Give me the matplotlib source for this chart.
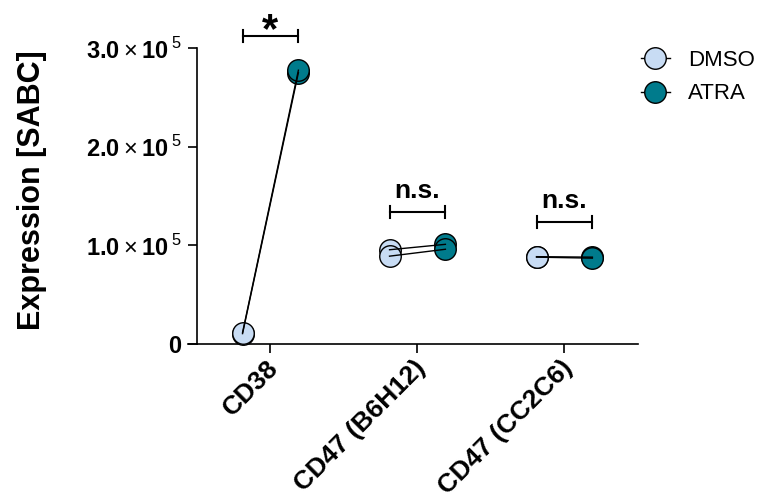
import matplotlib.pyplot as plt
from matplotlib.lines import Line2D
import matplotlib.transforms as mtransforms

plt.rcParams['font.family'] = ['Liberation Sans', 'DejaVu Sans']
plt.rcParams['mathtext.fontset'] = 'custom'
plt.rcParams['mathtext.rm'] = 'Liberation Sans'
plt.rcParams['mathtext.bf'] = 'Liberation Sans:bold'

# data (paired replicates, DMSO vs ATRA)
categories = ["CD38", "CD47 (B6H12)", "CD47 (CC2C6)"]
dmso = [[10500, 11500], [95500, 89000], [88500, 88000]]
atra = [[275000, 277500], [101000, 96000], [88000, 87000]]
sig_labels = ["*", "n.s.", "n.s."]
sig_heights = [312000, 134000, 124000]
yticks = [0, 100000, 200000, 300000]
ytick_labels = ["0",
                r"$\mathbf{1.0}\times\mathbf{10}^{\,5}$",
                r"$\mathbf{2.0}\times\mathbf{10}^{\,5}$",
                r"$\mathbf{3.0}\times\mathbf{10}^{\,5}$"]

dmso_color = "#c8dcf4"
atra_color = "#007b8c"
offset = 0.19

fig = plt.figure(figsize=(7.62, 5.04), dpi=100)
ax = fig.add_axes([0.2585, 0.3175, 0.5787, 0.5873])

for i, cat in enumerate(categories):
    for d, a in zip(dmso[i], atra[i]):
        ax.plot([i - offset, i + offset], [d, a], color="black", lw=1, zorder=4)
    ax.plot([i - offset] * len(dmso[i]), dmso[i], 'o', ms=15.5, mfc=dmso_color,
            mec="black", mew=1, zorder=3, clip_on=False)
    ax.plot([i + offset] * len(atra[i]), atra[i], 'o', ms=15.5, mfc=atra_color,
            mec="black", mew=1, zorder=3, clip_on=False)

    # significance bracket |---|
    h = sig_heights[i]
    cap = 6000
    ax.plot([i - offset, i + offset], [h, h], color="black", lw=1.5, clip_on=False)
    ax.plot([i - offset, i - offset], [h - cap, h + cap], color="black", lw=1.5, clip_on=False)
    ax.plot([i + offset, i + offset], [h - cap, h + cap], color="black", lw=1.5, clip_on=False)
    if sig_labels[i] == "*":
        ax.text(i, h + 5000, "*", ha="center", va="center", fontsize=30, fontweight="bold")
    else:
        ax.text(i, h + 21000, sig_labels[i], ha="center", va="center", fontsize=19, fontweight="bold")

ax.set_xlim(-0.5, 2.5)
ax.set_ylim(0, 300000)
ax.set_yticks(yticks)
ax.set_yticklabels(ytick_labels, fontsize=17, fontweight="bold")
ax.set_xticks(range(len(categories)))
ax.set_xticklabels(categories, rotation=45, ha="right", va="center", rotation_mode="anchor",
                   fontsize=19, fontweight="bold")
ax.tick_params(axis="both", direction="out", length=6.5, width=1.2)
ax.tick_params(axis="y", pad=5)
ax.tick_params(axis="x", pad=8)
shift = mtransforms.ScaledTranslation(4 / 100, 0, fig.dpi_scale_trans)
for lab in ax.get_xticklabels():
    lab.set_transform(lab.get_transform() + shift)
ax.set_ylabel("Expression [SABC]", fontsize=22, fontweight="bold")
ax.yaxis.set_label_coords(-0.34, 0.52)

for s in ["top", "right"]:
    ax.spines[s].set_visible(False)
for s in ["left", "bottom"]:
    ax.spines[s].set_linewidth(1.2)
# GraphPad style: x axis pokes a little past the y axis
ax.plot([-0.02, 0], [0, 0], transform=ax.transAxes, color="black", lw=1.2, clip_on=False)

handles = [
    Line2D([], [], color="black", lw=1, marker="o", ms=15.5, mfc=dmso_color, mec="black", label="DMSO"),
    Line2D([], [], color="black", lw=1, marker="o", ms=15.5, mfc=atra_color, mec="black", label="ATRA"),
]
fig.legend(handles=handles, loc="upper left", bbox_to_anchor=(0.815, 0.94), frameon=False,
           fontsize=16, handlelength=1.3, handletextpad=0.8, labelspacing=0.55)

fig.savefig("out.png", dpi=100)
